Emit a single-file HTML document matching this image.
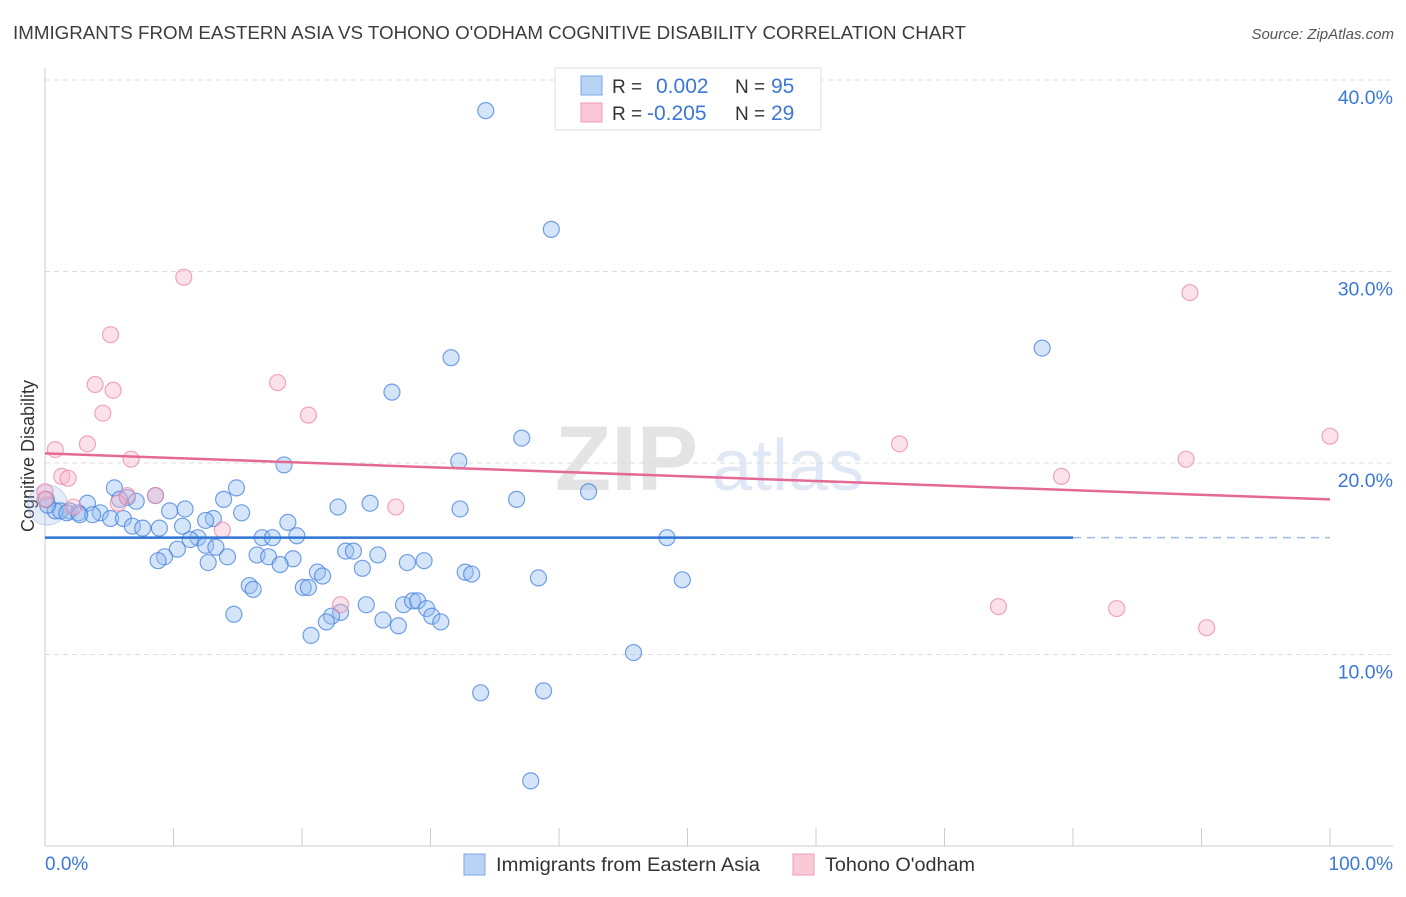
<!DOCTYPE html>
<html><head><meta charset="utf-8"><style>
body{margin:0;background:#fff;font-family:"Liberation Sans",sans-serif}
svg text{font-family:"Liberation Sans",sans-serif}
</style></head><body>
<svg id="chart" width="1406" height="892" viewBox="0 0 1406 892" xmlns="http://www.w3.org/2000/svg">
<text x="13" y="39" font-size="18" fill="#3c3c3c" textLength="953" lengthAdjust="spacingAndGlyphs">IMMIGRANTS FROM EASTERN ASIA VS TOHONO O'ODHAM COGNITIVE DISABILITY CORRELATION CHART</text>
<text x="1394" y="39" font-size="15" fill="#555" font-style="italic" text-anchor="end">Source: ZipAtlas.com</text>
<text x="555" y="490" font-size="92" fill="#e4e4e4" font-family="Liberation Serif" font-weight="bold">ZIP</text>
<text x="712" y="490" font-size="72" fill="#dfe8f4">atlas</text>
<g id="grid"></g>
<line x1="45" y1="68" x2="45" y2="846" stroke="#ccc"/>
<line x1="45" y1="846" x2="1393" y2="846" stroke="#ccc"/>
<g id="xticks"></g>
<text transform="translate(34,456) rotate(-90)" font-size="18" fill="#333" text-anchor="middle">Cognitive Disability</text>
<text x="45" y="870" font-size="19" fill="#3b78d8">0.0%</text>
<text x="1393" y="870" font-size="19" fill="#3b78d8" text-anchor="end">100.0%</text>
<g id="points"></g>
<g id="lines"></g>
<g>
<rect x="555" y="68" width="266" height="62" fill="#fff" stroke="#ddd"/>
<rect x="581" y="76" width="21" height="19" fill="#b9d3f5" stroke="#7aa7e8"/>
<rect x="581" y="103" width="21" height="19" fill="#f9c9d8" stroke="#ef9bb6"/>
<text x="612" y="93" font-size="19" fill="#333">R = </text><text x="656" y="93" font-size="21" fill="#3b78d8">0.002</text>
<text x="735" y="93" font-size="19" fill="#333">N = </text><text x="771" y="93" font-size="21" fill="#3b78d8">95</text>
<text x="612" y="120" font-size="19" fill="#333">R = </text><text x="647" y="120" font-size="21" fill="#3b78d8">-0.205</text>
<text x="735" y="120" font-size="19" fill="#333">N = </text><text x="771" y="120" font-size="21" fill="#3b78d8">29</text>
</g>
<g>
<rect x="464" y="854" width="21" height="21" fill="#b9d3f5" stroke="#7aa7e8"/>
<text x="496" y="871" font-size="19" fill="#333" textLength="264" lengthAdjust="spacingAndGlyphs">Immigrants from Eastern Asia</text>
<rect x="793" y="854" width="21" height="21" fill="#f9c9d8" stroke="#ef9bb6"/>
<text x="825" y="871" font-size="19" fill="#333" textLength="150" lengthAdjust="spacingAndGlyphs">Tohono O'odham</text>
</g>
</svg>
<script>
const yTicks=[10,20,30,40];
const xTickVals=[0,10,20,30,40,50,60,70,80,90,100];
const blueX=[34.3,39.4,77.6,31.6,27.0,37.1,32.2,18.6,42.3,36.7,32.3,25.3,22.8,14.9,13.9,5.4,8.6,6.4,7.1,3.3,1.9,0.8,1.2,0.2,4.3,1.7,2.6,3.7,5.1,6.1,6.8,7.6,8.9,9.7,10.7,13.1,15.3,18.9,19.6,16.9,17.7,11.9,11.3,10.3,9.3,8.8,12.5,13.3,14.2,12.7,16.5,17.4,19.3,18.3,23.4,24.0,25.9,28.2,29.5,24.7,21.2,21.6,20.1,20.5,15.9,16.2,32.7,33.2,38.4,49.6,48.4,25.0,27.9,28.6,29.0,29.7,30.1,30.8,26.3,27.5,23.0,22.3,21.9,14.7,20.7,45.8,33.9,38.8,37.8,12.5,10.9,0.1,5.8,2.7];
const blueY=[38.4,32.2,26.0,25.5,23.7,21.3,20.1,19.9,18.5,18.1,17.6,17.9,17.7,18.7,18.1,18.7,18.3,18.2,18.0,17.9,17.5,17.5,17.5,17.8,17.4,17.4,17.4,17.3,17.1,17.1,16.7,16.6,16.6,17.5,16.7,17.1,17.4,16.9,16.2,16.1,16.1,16.1,16.0,15.5,15.1,14.9,15.7,15.6,15.1,14.8,15.2,15.1,15.0,14.7,15.4,15.4,15.2,14.8,14.9,14.5,14.3,14.1,13.5,13.5,13.6,13.4,14.3,14.2,14.0,13.9,16.1,12.6,12.6,12.8,12.8,12.4,12.0,11.7,11.8,11.5,12.2,12.0,11.7,12.1,11.0,10.1,8.0,8.1,3.4,17.0,17.6,18.1,18.1,17.3];
const pinkX=[10.8,5.1,3.9,5.3,18.1,4.5,20.5,0.8,3.3,6.7,1.3,1.8,8.6,6.4,0,5.7,2.2,13.8,27.3,23.0,89.1,100,66.5,88.8,79.1,74.2,83.4,90.4,0];
const pinkY=[29.7,26.7,24.1,23.8,24.2,22.6,22.5,20.7,21.0,20.2,19.3,19.2,18.3,18.3,18.5,17.9,17.7,16.5,17.7,12.6,28.9,21.4,21.0,20.2,19.3,12.5,12.4,11.4,18.1];
const blueTrend=[16.1,16.1];
const pinkTrend=[20.5,18.1];
const blueSolidEnd=80;
const NS='http://www.w3.org/2000/svg';
const sx=v=>45+v*12.85, sy=v=>846-v*19.15;
function mk(t,a,p){const e=document.createElementNS(NS,t);for(const k in a)e.setAttribute(k,a[k]);p.appendChild(e);return e;}
const grid=document.getElementById('grid');
yTicks.forEach(t=>{
 const l=mk('line',{x1:45,x2:1393,y1:sy(t),y2:sy(t),stroke:'#ddd','stroke-dasharray':'5,4'},grid);
 
 
 const tx=mk('text',{x:1393,y:sy(t)+24,'font-size':19.5,fill:'#3b78d8','text-anchor':'end'},grid);
 tx.textContent=t.toFixed(1)+'%';
 
 
});
const xt=document.getElementById('xticks');
xTickVals.forEach(v=>{
 const l=mk('line',{x1:sx(v),x2:sx(v),y1:828,y2:846,stroke:'#ccc'},xt);
 
 
});
const pts=document.getElementById('points');
const big=mk('circle',{cx:sx(blueX[23]),cy:sy(blueY[23]),r:20,fill:'rgba(150,180,230,0.25)',stroke:'rgba(120,160,230,0.4)'},pts);


blueX.forEach((x,i)=>{
 const c=mk('circle',{cx:sx(x),cy:sy(blueY[i]),r:8,fill:'rgba(150,190,240,0.4)',stroke:'rgba(70,130,220,0.75)','stroke-width':1.2},pts);
 
 
});
pinkX.forEach((x,i)=>{
 const c=mk('circle',{cx:sx(x),cy:sy(pinkY[i]),r:8,fill:'rgba(245,180,200,0.4)',stroke:'rgba(235,130,165,0.7)','stroke-width':1.2},pts);
 
 
});
const ln=document.getElementById('lines');
const bmid=blueTrend[0]+(blueTrend[1]-blueTrend[0])*blueSolidEnd/100;
const b1=mk('line',{x1:sx(0),y1:sy(blueTrend[0]),x2:sx(blueSolidEnd),y2:sy(bmid),stroke:'#2f73d4','stroke-width':2.5},ln);


const b2=mk('line',{x1:sx(blueSolidEnd),y1:sy(bmid),x2:sx(100),y2:sy(blueTrend[1]),stroke:'#9bbbe6','stroke-width':1.5,'stroke-dasharray':'8,6'},ln);


const p1=mk('line',{x1:sx(0),y1:sy(pinkTrend[0]),x2:sx(100),y2:sy(pinkTrend[1]),stroke:'#e46a93','stroke-width':2.5},ln);


</script>
</body></html>
